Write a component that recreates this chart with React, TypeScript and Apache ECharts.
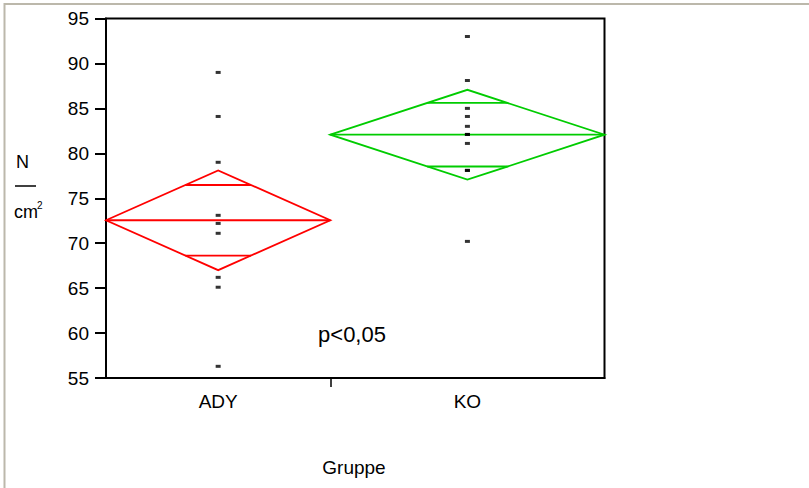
import React, { useEffect, useRef } from "react";
import * as echarts from "echarts";

const categories = ["ADY", "KO"];
const groupN = [9, 11];
const adyValues = [89.0, 84.1, 79.0, 73.1, 72.2, 71.1, 66.2, 65.1, 56.3];
const koValues = [93.0, 88.1, 85.0, 84.1, 83.0, 82.1, 82.1, 81.1, 78.1, 78.1, 70.2];
const groupMeans = [72.55, 82.07];
const groupCI = [5.55, 5.0];
const yMin = 55;
const yMax = 95;
const yInterval = 5;
const pText = "p<0,05";
const xTitle = "Gruppe";

const diamondColors = ["#ff0000", "#00cc00"];
const FONT = "'Liberation Sans', Arial, sans-serif";

export default function App() {
  const ref = useRef<HTMLDivElement>(null);
  useEffect(() => {
    if (!ref.current) return;
    const chart = echarts.init(ref.current, null, { renderer: "svg" });
    const total = groupN.reduce((a, b) => a + b, 0);
    const starts: number[] = [];
    let acc = 0;
    groupN.forEach((n) => {
      starts.push(acc);
      acc += n;
    });
    const centers = groupN.map((n, i) => starts[i] + n / 2);
    const boundaries = starts.slice(1);
    const groupValues = [adyValues, koValues];

    const diamondData = groupN.map((n, i) => [starts[i], starts[i] + n, groupMeans[i], groupCI[i], i]);

    const scatterSeries = groupValues.map((vals, i) => ({
      type: "scatter",
      symbol: "rect",
      symbolSize: [5, 3],
      itemStyle: { color: "#000" },
      z: 3,
      data: vals.map((v) => [centers[i], v]),
    }));

    chart.setOption({
      animation: false,
      grid: {
        left: 106,
        right: 204.5,
        top: 18.5,
        bottom: 110,
        show: true,
        borderColor: "#000",
        borderWidth: 2,
        backgroundColor: "transparent",
      },
      xAxis: {
        type: "value",
        min: 0,
        max: total,
        splitLine: { show: false },
        axisLine: { show: true, lineStyle: { color: "#000", width: 2 } },
        axisTick: { show: true, customValues: boundaries, length: 9, lineStyle: { color: "#000", width: 1.5 } },
        axisLabel: {
          show: true,
          customValues: centers,
          margin: 14,
          color: "#000",
          fontSize: 19,
          fontFamily: FONT,
          formatter: (v: number) => {
            let idx = 0;
            for (let i = 0; i < starts.length; i++) if (v >= starts[i]) idx = i;
            return categories[idx];
          },
        },
      },
      yAxis: {
        type: "value",
        min: yMin,
        max: yMax,
        interval: yInterval,
        splitLine: { show: false },
        axisLine: { show: true, lineStyle: { color: "#000", width: 2 } },
        axisTick: { show: true, length: 11, lineStyle: { color: "#000", width: 2 } },
        axisLabel: { color: "#000", fontSize: 19, fontFamily: FONT, margin: 17 },
      },
      graphic: [
        { type: "line", shape: { x1: 4.5, y1: 3, x2: 4.5, y2: 488 }, style: { stroke: "#bcb8ab", lineWidth: 2 } },
        { type: "line", shape: { x1: 4, y1: 4, x2: 809, y2: 4 }, style: { stroke: "#bcb8ab", lineWidth: 2 } },
        { type: "text", x: 22.5, y: 161.5, style: { text: "N", fill: "#000", font: `18px ${FONT}`, textAlign: "center", textVerticalAlign: "middle" } },
        { type: "line", shape: { x1: 15, y1: 186, x2: 36, y2: 186 }, style: { stroke: "#000", lineWidth: 1.5 } },
        { type: "text", x: 14, y: 212, style: { text: "cm", fill: "#000", font: `18px ${FONT}`, textAlign: "left", textVerticalAlign: "middle" } },
        { type: "text", x: 37, y: 205, style: { text: "2", fill: "#000", font: `10px ${FONT}`, textAlign: "left", textVerticalAlign: "middle" } },
        { type: "text", x: 352, y: 334, style: { text: pText, fill: "#000", font: `22px ${FONT}`, textAlign: "center", textVerticalAlign: "middle" } },
        { type: "text", x: 354, y: 467, style: { text: xTitle, fill: "#000", font: `19px ${FONT}`, textAlign: "center", textVerticalAlign: "middle" } },
      ],
      series: [
        {
          type: "custom",
          z: 2,
          data: diamondData,
          renderItem: (params: any, api: any) => {
            const x0 = api.value(0);
            const x1 = api.value(1);
            const m = api.value(2);
            const ci = api.value(3);
            const idx = api.value(4);
            const xc = (x0 + x1) / 2;
            const color = diamondColors[idx];
            const pL = api.coord([x0, m]);
            const pR = api.coord([x1, m]);
            const pT = api.coord([xc, m + ci]);
            const pB = api.coord([xc, m - ci]);
            const off = ci / Math.SQRT2;
            const f = 1 - off / ci;
            const hw = (x1 - x0) / 2;
            const oTL = api.coord([xc - hw * f, m + off]);
            const oTR = api.coord([xc + hw * f, m + off]);
            const oBL = api.coord([xc - hw * f, m - off]);
            const oBR = api.coord([xc + hw * f, m - off]);
            const ls = { stroke: color, lineWidth: 1.8, fill: "none" };
            return {
              type: "group",
              children: [
                { type: "polygon", shape: { points: [pL, pT, pR, pB] }, style: ls },
                { type: "line", shape: { x1: pL[0], y1: pL[1], x2: pR[0], y2: pR[1] }, style: ls },
                { type: "line", shape: { x1: oTL[0], y1: oTL[1], x2: oTR[0], y2: oTR[1] }, style: ls },
                { type: "line", shape: { x1: oBL[0], y1: oBL[1], x2: oBR[0], y2: oBR[1] }, style: ls },
              ],
            };
          },
        },
        ...scatterSeries,
      ],
    });
    return () => chart.dispose();
  }, []);
  return <div ref={ref} style={{ position: "fixed", left: 0, top: 0, width: 809, height: 488, background: "#fff" }} />;
}
